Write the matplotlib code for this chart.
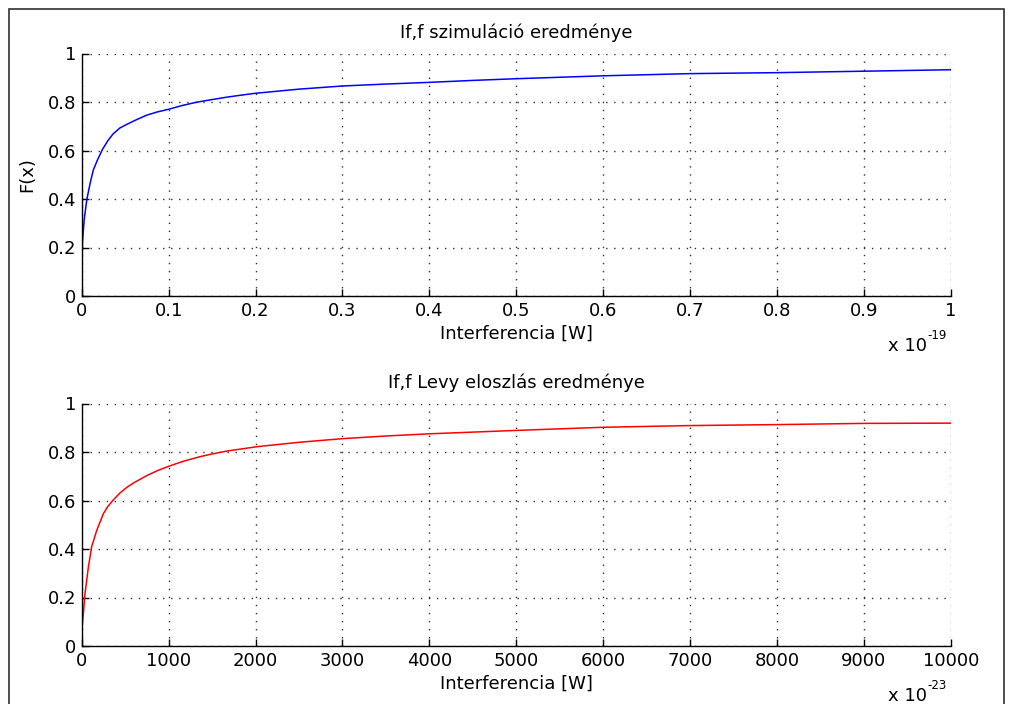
import matplotlib.pyplot as plt
from matplotlib.patches import Rectangle

### Data ###

# simulated CDF, x in units of 1e-19 W
sim_x = [0, 0, 0.001, 0.003, 0.006, 0.01, 0.0134, 0.018, 0.024, 0.03, 0.036, 0.044,
         0.052, 0.063, 0.075, 0.087, 0.1, 0.115, 0.132, 0.15, 0.167, 0.185, 0.2,
         0.25, 0.3, 0.35, 0.4, 0.45, 0.5, 0.6, 0.7, 0.8, 0.9, 1.0]
sim_y = [0.05, 0.1, 0.23, 0.32, 0.4, 0.47, 0.52, 0.56, 0.605, 0.64, 0.668, 0.693,
         0.708, 0.727, 0.746, 0.759, 0.77, 0.785, 0.799, 0.81, 0.82, 0.829, 0.836,
         0.853, 0.866, 0.874, 0.881, 0.889, 0.896, 0.908, 0.917, 0.921, 0.927, 0.933]

# Levy CDF, x in units of 1e-23 W
levy_x = [0, 0, 19, 38, 77, 115, 173, 250, 300, 365, 440, 519, 600, 750, 870, 1000,
          1180, 1365, 1500, 1673, 2019, 2500, 3000, 3500, 4000, 4500, 5000, 6000,
          7000, 8000, 9000, 10000]
levy_y = [0.0, 0.06, 0.133, 0.216, 0.326, 0.41, 0.477, 0.546, 0.575, 0.603, 0.631,
          0.654, 0.673, 0.703, 0.723, 0.741, 0.763, 0.781, 0.792, 0.804, 0.822, 0.84,
          0.855, 0.866, 0.875, 0.882, 0.889, 0.902, 0.909, 0.913, 0.918, 0.919]

sim_ticks = [0, 0.1, 0.2, 0.3, 0.4, 0.5, 0.6, 0.7, 0.8, 0.9, 1]
sim_ticklabels = ['0', '0.1', '0.2', '0.3', '0.4', '0.5', '0.6', '0.7', '0.8', '0.9', '1']
levy_ticks = list(range(0, 10001, 1000))
y_ticks = [0, 0.2, 0.4, 0.6, 0.8, 1]
y_ticklabels = ['0', '0.2', '0.4', '0.6', '0.8', '1']

### Style ###

plt.rcParams['font.family'] = 'DejaVu Sans'
fs = 13
grid_style = dict(color='#303030', linestyle=(0, (1, 4.8)), linewidth=1.0)

fig = plt.figure(figsize=(10.1, 7.04), dpi=100)

# window frame
fig.patches.append(Rectangle((9 / 1010, -0.05), 995 / 1010, 1.05 - 9 / 704,
                             transform=fig.transFigure, fill=False,
                             edgecolor='#303030', linewidth=1.2))

def setup_axes(ax, xticks, xlabels, title, exponent):
    ax.set_ylim(0, 1)
    ax.set_yticks(y_ticks)
    ax.set_yticklabels(y_ticklabels)
    ax.set_xticks(xticks)
    ax.set_xticklabels(xlabels)
    ax.set_xlim(xticks[0], xticks[-1])
    ax.spines['top'].set_visible(False)
    ax.spines['right'].set_visible(False)
    for s in ['left', 'bottom']:
        ax.spines[s].set_linewidth(1.0)
    ax.tick_params(direction='in', length=5, width=1.0, labelsize=fs, pad=4)
    ax.grid(True, **grid_style)
    ax.set_title(title, fontsize=fs, pad=11)
    ax.set_xlabel('Interferencia [W]', fontsize=fs, labelpad=4)
    # exponent written out by hand, matlab style
    ax.annotate('x 10', xy=(1.0, -0.205), xycoords='axes fraction',
                xytext=(-17, 0), textcoords='offset points',
                fontsize=fs, ha='right', va='center')
    ax.annotate(exponent, xy=(1.0, -0.205), xycoords='axes fraction',
                xytext=(-3, 7), textcoords='offset points',
                fontsize=8.5, ha='right', va='center')

### Top plot ###

ax1 = fig.add_axes([81.7 / 1010, 1 - 296 / 704, 869 / 1010, 242.5 / 704])
ax1.plot(sim_x, sim_y, color='#0000ff', linewidth=1.1)
setup_axes(ax1, sim_ticks, sim_ticklabels, 'If,f szimuláció eredménye', '-19')
ax1.set_ylabel('F(x)', fontsize=fs, labelpad=8)

### Bottom plot ###

ax2 = fig.add_axes([81.7 / 1010, 1 - 646 / 704, 869 / 1010, 242.5 / 704])
ax2.plot(levy_x, levy_y, color='#ff0000', linewidth=1.1)
setup_axes(ax2, levy_ticks, [str(t) for t in levy_ticks], 'If,f Levy eloszlás eredménye', '-23')

fig.savefig('out.png', dpi=100)
